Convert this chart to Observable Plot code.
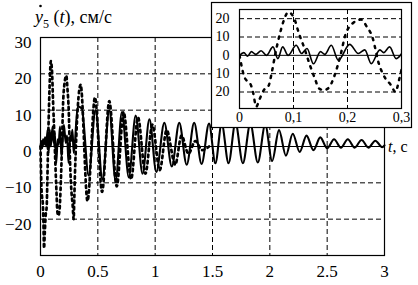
<!DOCTYPE html>
<html><head><meta charset="utf-8">
<script src="https://cdn.jsdelivr.net/npm/d3@7"></script>
<script src="https://cdn.jsdelivr.net/npm/@observablehq/plot@0.6"></script>
<style>
html,body{margin:0;padding:0;background:#fff;}
#chart{width:418px;height:285px;overflow:hidden;}
</style></head><body><div id="chart"></div>
<script>
// solid series: time (s) and velocity (cm/s), read at extrema
const solidT = [0, 0.008, 0.015, 0.022, 0.03, 0.04, 0.05, 0.062, 0.071, 0.08, 0.09, 0.105, 0.115, 0.125, 0.137, 0.15, 0.158, 0.17, 0.183, 0.204, 0.22, 0.232, 0.244, 0.26, 0.267, 0.278, 0.29,
  0.325, 0.36, 0.42, 0.48, 0.54, 0.6, 0.655, 0.71, 0.77, 0.83, 0.89, 0.95, 1.01, 1.08, 1.145, 1.21, 1.275, 1.34, 1.405, 1.47, 1.525, 1.58, 1.64, 1.70, 1.765, 1.83, 1.895, 1.96, 2.02, 2.08, 2.14, 2.2, 2.26, 2.32, 2.38, 2.44, 2.5, 2.56, 2.62, 2.68, 2.74, 2.8, 2.86, 2.92, 2.98, 3.0];
const solidY = [0, 1.5, -0.5, 2, 0.5, 2.5, 0, 4.6, -1.8, 4.6, 0, 5.5, 1, 3.7, -4.6, 2, 0.5, 5.5, -2.7, 6, 1, 3, -4.5, 3, 1.5, 4.6, -1.8,
  11, 10.5, -8, 10, -9, 10, -9.5, 9.5, -8.5, 8.5, -7.5, 7.5, -7, 6.5, -5.5, 6.5, -5, 6.5, -4.8, 6.3, -4.6, 6.3, -4.6, 6.5, -4.6, 6.3, -4.4, 6, -4, 4.5, -2.5, 3.5, -1.5, 3, -1, 2.5, -0.5, 2, -0.3, 2, -0.3, 1.8, -0.3, 1.6, -0.2, 0.3];
// dotted series
const dotT = [0, 0.004, 0.008, 0.014, 0.02, 0.025, 0.031, 0.037, 0.045, 0.054, 0.06, 0.067, 0.075, 0.082, 0.09, 0.1, 0.11, 0.12, 0.13, 0.14, 0.147, 0.156, 0.166, 0.175, 0.187, 0.196, 0.209, 0.225, 0.236, 0.246, 0.258, 0.27, 0.28, 0.289, 0.295, 0.3,
  0.35, 0.41, 0.475, 0.537, 0.6, 0.665, 0.725, 0.79, 0.85, 0.915, 0.975, 1.04, 1.1, 1.175, 1.23, 1.29, 1.35, 1.41, 1.47];
const dotY = [0, -6, -11, -14, -15.5, -20, -28, -24, -19, -16.5, -9, 1.8, 12, 19, 23.5, 21, 12, 4, -5, -13, -18, -19, -17.5, -11.8, 0, 11, 17.3, 19.5, 15.5, 10, -4.5, -12.5, -16, -20, -14, -8,
  17, -15, 13.5, -12.5, 12.5, -11, 9.5, -9, 8, -7.5, 6, -6.5, 4.5, -5, 3, -2, 1.5, -1, 0];

const xTicks = [0, 0.5, 1, 1.5, 2, 2.5, 3];
const xTickLabels = ["0", "0.5", "1", "1.5", "2", "2.5", "3"];
const yTicks = [30, 20, 10, 0, -10, -20];
const yTickLabels = ["30", "20", "10", "0", "\u221210", "\u221220"];
const xGrid = [0.5, 1, 1.5, 2, 2.5];
const yGrid = [-20, -10, 10, 20];
const insetXTicks = [0, 0.1, 0.2, 0.3];
const insetXTickLabels = ["0", "0,1", "0,2", "0,3"];
const insetYTicks = [20, 10, 0, -10, -20];
const insetYTickLabels = ["20", "10", "0", "10", "20"];
const insetXGrid = [0.1, 0.2];
const insetYGrid = [-20, -10, 10, 20];
const yTitleParts = ["y", "5", " (", "t", "), см/с"];
const xTitleParts = ["t", ", с"];

const solid = solidT.map((t, i) => ({t, v: solidY[i]}));
const dotted = dotT.map((t, i) => ({t, v: dotY[i]}));
const FONT = "'Liberation Serif', 'Times New Roman', serif";
const dash = {stroke: "black", strokeWidth: 1, strokeDasharray: "5,3"};

const main = Plot.plot({
  width: 418, height: 285,
  marginLeft: 40, marginRight: 34, marginTop: 37, marginBottom: 30,
  x: {domain: [0, 3], label: null},
  y: {domain: [-30, 30], label: null},
  style: {fontFamily: FONT, fontSize: "17px", color: "black", background: "white"},
  marks: [
    Plot.ruleX(xGrid, dash),
    Plot.ruleY(yGrid, dash),
    Plot.ruleY([0], {stroke: "black", strokeWidth: 1}),
    Plot.line(solid, {x: "t", y: "v", stroke: "black", strokeWidth: 2.1, curve: "monotone-x"}),
    Plot.line(dotted, {x: "t", y: "v", stroke: "black", strokeWidth: 2.7, strokeDasharray: "2.5,3.6", curve: "monotone-x"}),
    Plot.frame({stroke: "black", strokeWidth: 1.2}),
    Plot.axisX({ticks: xTicks, tickSize: 0, tickPadding: 9, fontSize: 17, label: null,
      tickFormat: d => xTickLabels[xTicks.indexOf(d)]}),
    Plot.axisY({ticks: yTicks, tickSize: 0, tickPadding: 9, fontSize: 17, dy: 5, label: null,
      tickFormat: d => yTickLabels[yTicks.indexOf(d)]})
  ]
});

const inset = Plot.plot({
  width: 201, height: 126,
  marginLeft: 28, marginRight: 11, marginTop: 7, marginBottom: 20,
  x: {domain: [0, 0.3], label: null},
  y: {domain: [-29, 25], label: null},
  style: {fontFamily: FONT, fontSize: "14px", color: "black"},
  marks: [
    Plot.ruleX(insetXGrid, dash),
    Plot.ruleY(insetYGrid, dash),
    Plot.ruleY([0], {stroke: "black", strokeWidth: 1}),
    Plot.line(solid, {x: "t", y: "v", stroke: "black", strokeWidth: 1.6, curve: "monotone-x", clip: true}),
    Plot.line(dotted, {x: "t", y: "v", stroke: "black", strokeWidth: 2.5, strokeDasharray: "2.2,5.8", curve: "monotone-x", clip: true}),
    Plot.frame({stroke: "black", strokeWidth: 1.2}),
    Plot.axisX({ticks: insetXTicks, tickSize: 0, tickPadding: 4, fontSize: 14, label: null,
      tickFormat: d => insetXTickLabels[insetXTicks.indexOf(d)]}),
    Plot.axisY({ticks: insetYTicks, tickSize: 0, tickPadding: 10, fontSize: 14, label: null,
      tickFormat: d => insetYTickLabels[insetYTicks.indexOf(d)]})
  ]
});

d3.select(inset).insert("rect", ":first-child")
  .attr("x", 0.5).attr("y", 0.5).attr("width", 200).attr("height", 125)
  .attr("fill", "white").attr("stroke", "black").attr("stroke-width", 1.2);
inset.setAttribute("x", 211);
inset.setAttribute("y", 2);
inset.style.width = "201px";
inset.style.height = "126px";
inset.style.maxWidth = "none";
inset.style.overflow = "visible";
main.appendChild(inset);

const svg = d3.select(main);
const title = svg.append("text").attr("x", 35).attr("y", 23).attr("text-anchor", "start")
  .attr("font-family", FONT).attr("font-size", 18).attr("fill", "black");
title.append("tspan").attr("font-style", "italic").text(yTitleParts[0]);
title.append("tspan").attr("font-size", 12).attr("dy", 5).text(yTitleParts[1]);
title.append("tspan").attr("dy", -5).text(yTitleParts[2]);
title.append("tspan").attr("font-style", "italic").text(yTitleParts[3]);
title.append("tspan").text(yTitleParts[4]);
svg.append("circle").attr("cx", 40.5).attr("cy", 6).attr("r", 1.3).attr("fill", "black");

const xt = svg.append("text").attr("x", 388).attr("y", 152).attr("text-anchor", "start")
  .attr("font-family", FONT).attr("font-size", 16).attr("fill", "black");
xt.append("tspan").attr("font-style", "italic").text(xTitleParts[0]);
xt.append("tspan").text(xTitleParts[1]);

document.getElementById("chart").appendChild(main);
</script></body></html>
